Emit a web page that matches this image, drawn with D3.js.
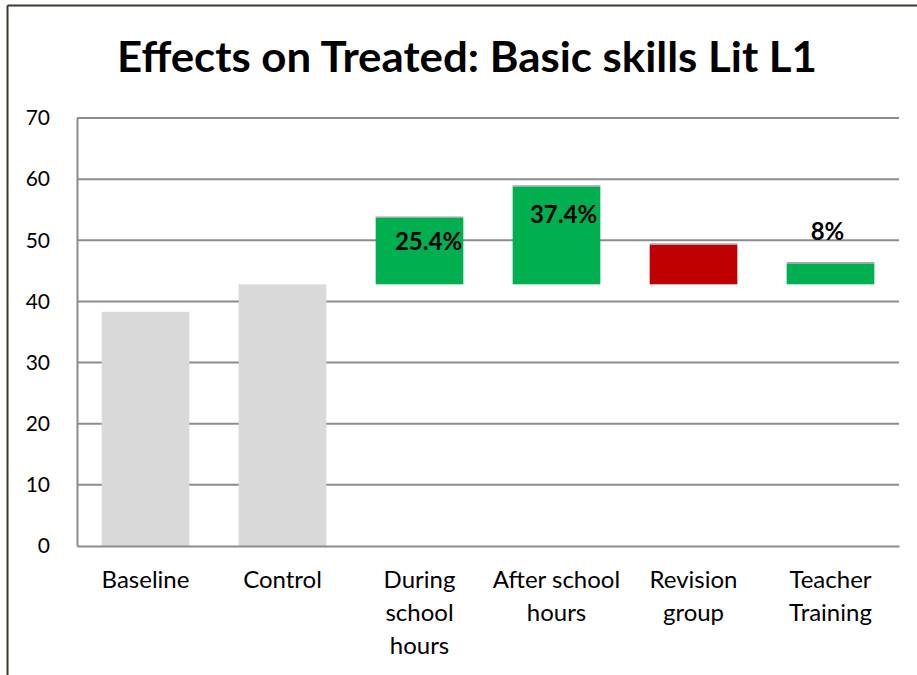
<!DOCTYPE html>
<html>
<head>
<meta charset="utf-8">
<script src="https://cdn.jsdelivr.net/npm/d3@7"></script>
<style>
  html, body { margin: 0; padding: 0; background: #fff; }
  svg { display: block; }
</style>
</head>
<body>
<svg id="chart" width="917" height="675"></svg>
<script>
// Mean Lit L1 basic-skills scores; treatment bars float up from the control mean
const categories = ["Baseline", "Control", "During school hours", "After school hours", "Revision group", "Teacher Training"];
const categoryLines = [["Baseline"], ["Control"], ["During", "school", "hours"], ["After school", "hours"], ["Revision", "group"], ["Teacher", "Training"]];
const controlScore = 42.8;
const baseScores = [38.3, controlScore];
// Percentage gains over control for the treatment arms (null = not labelled)
const gainLabels = [null, null, "25.4%", "37.4%", null, "8%"];
const gainPct = [null, null, 25.4, 37.4, null, 8];
const revisionScore = 49.3;
const barKinds = ["base", "base", "gain", "gain", "loss", "gain"];
const yTicks = [0, 10, 20, 30, 40, 50, 60, 70];

// Bar tops: base bars use their score, labelled gains use control × (1 + gain)
const tops = categories.map((c, i) => {
  if (i < 2) return baseScores[i];
  if (gainPct[i] != null) return controlScore * (1 + gainPct[i] / 100);
  return revisionScore;
});
const bottoms = categories.map((c, i) => (i < 2 ? 0 : controlScore));

const colors = { base: "#d9d9d9", gain: "#00b050", loss: "#c00000" };
const svg = d3.select("#chart");
const margin = { left: 77, right: 18, top: 118, bottom: 129 };
const W = 917, H = 675;

// Outer frame (top and left edges visible)
svg.append("line").attr("x1", 7.5).attr("x2", W).attr("y1", 5.5).attr("y2", 5.5)
  .attr("stroke", "#3b382c").attr("stroke-width", 2);
svg.append("line").attr("x1", 7.5).attr("x2", 7.5).attr("y1", 5.5).attr("y2", H)
  .attr("stroke", "#3b382c").attr("stroke-width", 2);

const x = d3.scaleBand().domain(categories)
  .range([margin.left, W - margin.right]).paddingInner(0.36).paddingOuter(0.18);
const y = d3.scaleLinear().domain([0, 70]).range([H - margin.bottom, margin.top]);

const font = "Lato, 'Open Sans', sans-serif";

// Title
svg.append("text").attr("x", 467).attr("y", 72).attr("text-anchor", "middle")
  .attr("font-family", font).attr("font-weight", 700).attr("font-size", 42)
  .attr("textLength", 700).attr("lengthAdjust", "spacingAndGlyphs")
  .attr("fill", "#000").text("Effects on Treated: Basic skills Lit L1");

// Gridlines
svg.append("g").selectAll("line").data(yTicks.filter(t => t > 0)).join("line")
  .attr("x1", margin.left).attr("x2", W - margin.right)
  .attr("y1", d => y(d)).attr("y2", d => y(d))
  .attr("stroke", "#8c8c8c").attr("stroke-width", 2);

// Y axis
const yAxis = svg.append("g").attr("transform", `translate(${margin.left},0)`)
  .call(d3.axisLeft(y).tickValues(yTicks).tickSize(0).tickPadding(27));
yAxis.select(".domain").attr("stroke", "#8c8c8c").attr("stroke-width", 2);
yAxis.selectAll("text").attr("font-family", font).attr("font-size", 21).attr("fill", "#000");

// Bars
const bars = svg.append("g");
bars.selectAll("rect").data(categories).join("rect")
  .attr("x", d => x(d)).attr("width", x.bandwidth())
  .attr("y", (d, i) => y(tops[i]))
  .attr("height", (d, i) => y(bottoms[i]) - y(tops[i]))
  .attr("fill", (d, i) => colors[barKinds[i]]);
// Thin grey cap on the floating bars
bars.selectAll("line.cap").data(categories.filter((d, i) => i >= 2)).join("line")
  .attr("class", "cap")
  .attr("x1", d => x(d)).attr("x2", d => x(d) + x.bandwidth())
  .attr("y1", d => y(tops[categories.indexOf(d)]) - 0.5)
  .attr("y2", d => y(tops[categories.indexOf(d)]) - 0.5)
  .attr("stroke", "#a6a6a6").attr("stroke-width", 1.5);

// X axis
const xAxis = svg.append("g").attr("transform", `translate(0,${y(0)})`)
  .call(d3.axisBottom(x).tickSize(0).tickFormat(""));
xAxis.select(".domain").attr("stroke", "#8c8c8c").attr("stroke-width", 2);

// Category labels (wrapped)
const catG = svg.append("g");
categories.forEach((c, i) => {
  const t = catG.append("text").attr("text-anchor", "middle")
    .attr("font-family", font).attr("font-size", 24).attr("fill", "#000");
  categoryLines[i].forEach((ln, k) => {
    t.append("tspan").attr("x", x(c) + x.bandwidth() / 2)
      .attr("y", 588 + k * 33).text(ln);
  });
});

// Gain labels, nudged as placed in the report
const labelOffset = { 2: [9, 32], 3: [7, 37], 5: [-3, -23] };
svg.append("g").selectAll("text").data(categories.map((c, i) => i).filter(i => gainLabels[i]))
  .join("text")
  .attr("x", i => x(categories[i]) + x.bandwidth() / 2 + labelOffset[i][0])
  .attr("y", i => y(tops[i]) + labelOffset[i][1])
  .attr("text-anchor", "middle")
  .attr("font-family", font).attr("font-weight", 700).attr("font-size", 24)
  .attr("fill", "#000")
  .text(i => gainLabels[i]);
</script>
</body>
</html>
